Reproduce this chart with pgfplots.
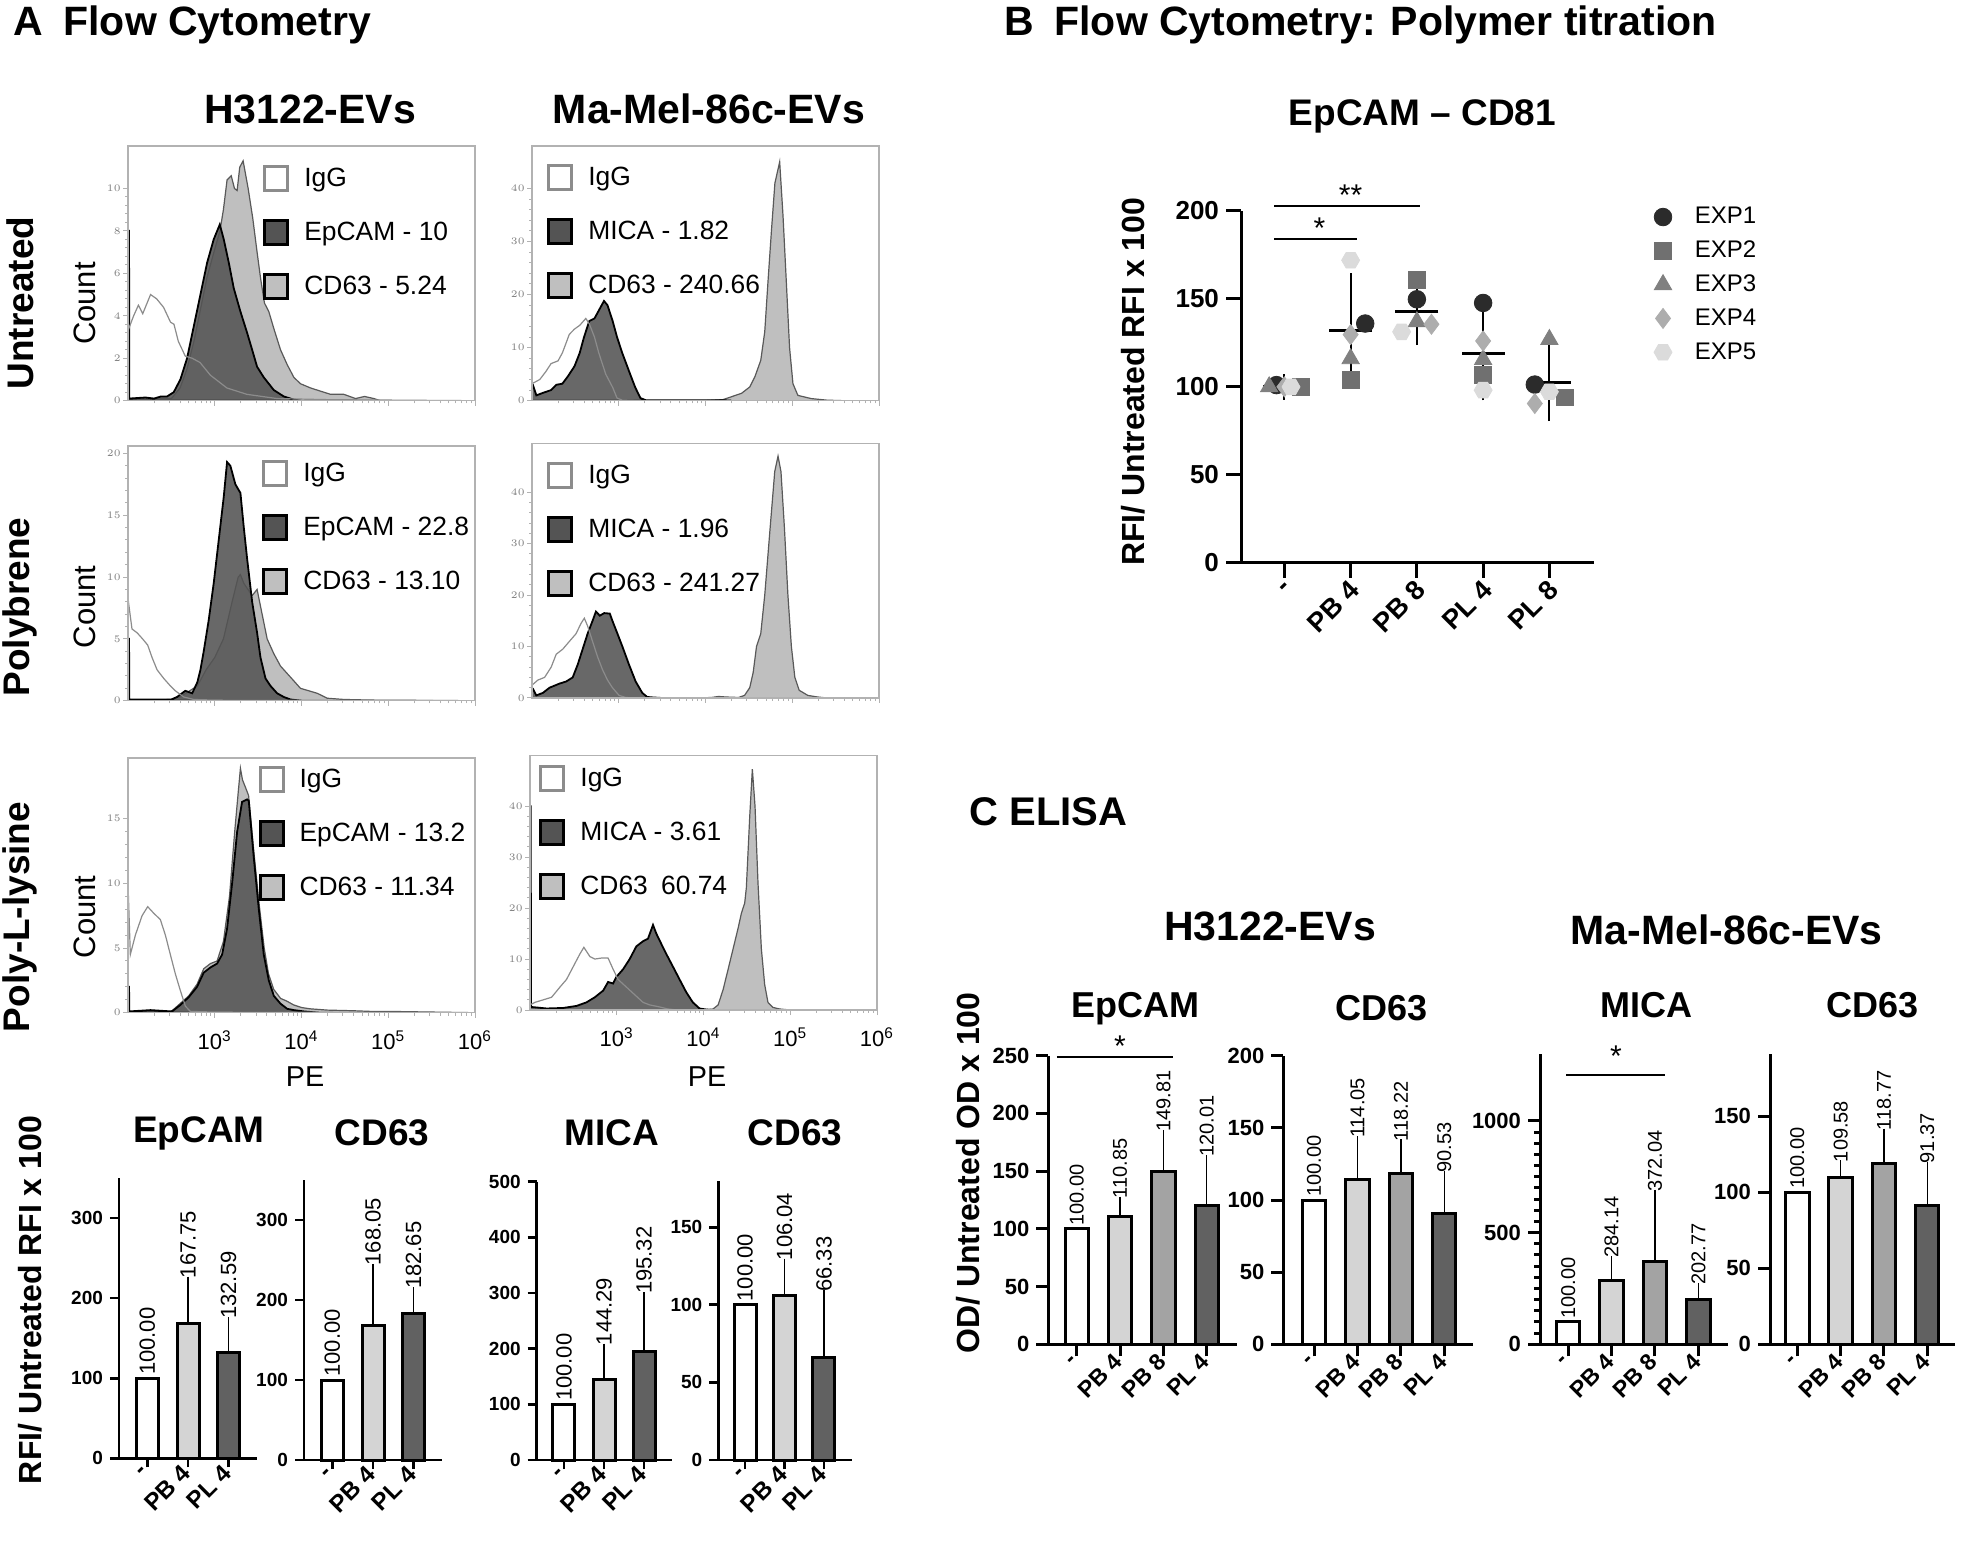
\documentclass[border=0pt]{standalone}
\usepackage{fontspec}
\setmainfont{Liberation Sans}
\usepackage{pgfplots}
\pgfplotsset{compat=1.18}

\definecolor{igg}{gray}{0.55}
\definecolor{epc}{gray}{0.33}
\definecolor{cdf}{gray}{0.75}
\definecolor{barL}{gray}{0.83}
\definecolor{barM}{gray}{0.64}
\definecolor{barD}{gray}{0.38}
\definecolor{e1}{gray}{0.17}
\definecolor{e2}{gray}{0.44}
\definecolor{e3}{gray}{0.50}
\definecolor{e4}{gray}{0.68}
\definecolor{e5}{gray}{0.86}

\newcommand{\fs}[1]{\fontsize{#1}{#1}\selectfont}
% text placed in pixel coordinates of the 1961x1545 reference (1 px = 0.5pt)
\newcommand{\txt}[4][]{\node[inner sep=0pt,#1] at (0.5*#2pt,-0.5*#3pt) {#4};}

\pgfdeclareplotmark{hexagon*}{%
  \pgfpathmoveto{\pgfpointpolar{0}{\pgfplotmarksize}}%
  \pgfpathlineto{\pgfpointpolar{60}{\pgfplotmarksize}}%
  \pgfpathlineto{\pgfpointpolar{120}{\pgfplotmarksize}}%
  \pgfpathlineto{\pgfpointpolar{180}{\pgfplotmarksize}}%
  \pgfpathlineto{\pgfpointpolar{240}{\pgfplotmarksize}}%
  \pgfpathlineto{\pgfpointpolar{300}{\pgfplotmarksize}}%
  \pgfpathclose\pgfusepathqfillstroke}

\pgfplotsset{
  hist/.style={scale only axis, width=173.5pt, height=127.35pt,
    xmin=2, xmax=6, ymin=0, axis on top,
    axis line style={draw=gray!60, line width=0.6pt},
    tick align=outside, major tick length=2.5pt, minor tick length=1.4pt,
    tick style={gray!60, line width=0.5pt},
    xtick pos=bottom, ytick pos=left,
    xtick={3,4,5,6}, xticklabels={,,,},
    minor xtick={2.301,2.477,2.602,2.699,2.778,2.845,2.903,2.954,
                 3.301,3.477,3.602,3.699,3.778,3.845,3.903,3.954,
                 4.301,4.477,4.602,4.699,4.778,4.845,4.903,4.954,
                 5.301,5.477,5.602,5.699,5.778,5.845,5.903,5.954},
    minor y tick num=4,
    yticklabel style={font=\fs{4}, text=gray, inner sep=1pt},
    legend cell align=left,
    legend image code/.code={\path[draw=none, fill=none] (0pt,-13.5pt) rectangle (11.5pt,13.5pt);
       \draw[##1, line width=1.5pt] (-0.3pt,-5.9pt) rectangle (11.2pt,5.9pt);},
    legend style={draw=none, fill=none, anchor=north west, inner sep=0pt,
       row sep=0pt, font=\fs{13.2}, nodes={inner sep=0pt},
       /tikz/every odd column/.append style={column sep=7.5pt}}},
  histlab/.style={xticklabels={10\textsuperscript{3},10\textsuperscript{4},10\textsuperscript{5},10\textsuperscript{6}},
    xticklabel style={font=\fs{11}, yshift=-3pt}},
  cdcurve/.style={fill=cdf, draw=black!65, line width=0.6pt},
  epcurve/.style={fill=epc, draw=black, line width=0.9pt, fill opacity=0.88},
  iggcurve/.style={draw=igg, line width=0.6pt},
  gp/.style={scale only axis, axis x line*=bottom, axis y line*=left,
    axis line style={-}, ymin=0, clip=false, tick align=outside,
    /pgf/number format/assume math mode=true, /pgf/number format/1000 sep={},
    xticklabel style={rotate=45, anchor=east, inner sep=1pt}},
  gpA/.style={gp, axis line style={line width=1.35pt},
    tick style={black, line width=1.35pt}, major tick length=4.5pt,
    yticklabel style={font=\bfseries\fs{9.5}},
    xticklabel style={font=\bfseries\fs{12}},
    bar width=11pt, xtick={0,1,2}},
  gpC/.style={gp, axis line style={line width=1.5pt},
    tick style={black, line width=1.5pt}, major tick length=6pt, minor tick length=3pt,
    yticklabel style={font=\bfseries\fs{11}},
    xticklabel style={font=\bfseries\fs{11.5}},
    bar width=11.7pt, xtick={0,1,2,3}, xticklabels={-,PB 4,PB 8,PL 4}},
  gpB/.style={gp, axis line style={line width=1.5pt},
    tick style={black, line width=1.5pt}, major tick length=7.5pt,
    yticklabel style={font=\bfseries\fs{13}},
    xticklabel style={font=\bfseries\fs{13.5}, yshift=-4pt}},
  gpbar/.style={ybar, bar shift=0pt, draw=black, line width=1.5pt, fill=#1},
  err/.style={error bars/y dir=plus, error bars/y explicit,
    error bars/error bar style={line width=0.65pt, black},
    error bars/error mark options={line width=0.65pt, mark size=2.5pt, black}},
  vals/.style={draw=none, mark=none, nodes near coords, point meta=explicit symbolic,
    nodes near coords style={rotate=90, anchor=west, font=\fs{#1}, inner sep=1.5pt}},
}

\begin{document}
\begin{tikzpicture}
\fill[white] (0,0) rectangle (980.5pt,-772.5pt);
\path[use as bounding box] (0,0) rectangle (980.5pt,-772.5pt);

% ---------------- A: histograms ----------------
\begin{axis}[hist, at={(64pt,-200.35pt)}, ymax=12, ytick={0,2,...,10},
  legend style={at={(0.389,0.98)}}]
\addlegendimage{draw=igg, fill=white}\addlegendentry{IgG}
\addlegendimage{draw=black, fill=epc}\addlegendentry{EpCAM - 10}
\addlegendimage{draw=black, fill=cdf}\addlegendentry{CD63 - 5.24}
\addplot[cdcurve] coordinates {(2.0,0) (2.0,0.1) (2.5,0.1) (2.6,0.6) (2.68,1.5) (2.76,2.8) (2.83,4.2) (2.91,5.8) (2.99,7.0) (3.06,8.0) (3.10,9.0) (3.142,10.4) (3.19,10.6) (3.227,10.0) (3.258,9.9) (3.288,11.0) (3.327,11.3) (3.385,10.0) (3.438,8.6) (3.488,7.0) (3.527,5.8) (3.573,4.6) (3.623,4.2) (3.681,3.4) (3.758,2.4) (3.835,1.7) (3.912,1.1) (3.988,0.8) (4.104,0.6) (4.219,0.45) (4.335,0.3) (4.488,0.3) (4.623,0.1) (4.727,0.2) (4.835,0.1) (4.91,0) (6,0)} \closedcycle;
\addplot[epcurve] coordinates {(2.0,0) (2.0,8) (2.012,8) (2.015,0.1) (2.2,0.15) (2.3,0.1) (2.38,0.2) (2.45,0.2) (2.527,0.4) (2.604,1.0) (2.681,2.0) (2.758,3.5) (2.835,5.0) (2.912,6.5) (2.988,7.6) (3.058,8.3) (3.104,7.6) (3.162,6.5) (3.219,5.3) (3.296,4.2) (3.373,3.2) (3.431,2.4) (3.488,1.6) (3.565,1.1) (3.681,0.5) (3.796,0.2) (3.912,0.05) (4.0,0)} \closedcycle;
\addplot[iggcurve] coordinates {(2.0,0) (2.0,3.3) (2.065,4.0) (2.12,4.5) (2.17,4.1) (2.26,5.0) (2.33,4.8) (2.41,4.4) (2.49,3.7) (2.53,3.6) (2.58,2.8) (2.66,2.1) (2.74,2.0) (2.83,1.8) (2.95,1.2) (3.14,0.6) (3.37,0.3) (3.72,0.1) (4.3,0.05) (6,0)};
\end{axis}

\begin{axis}[hist, at={(266pt,-200.35pt)}, ymax=48, ytick={0,10,...,40},
  legend style={at={(0.043,0.984)}}]
\addlegendimage{draw=igg, fill=white}\addlegendentry{IgG}
\addlegendimage{draw=black, fill=epc}\addlegendentry{MICA - 1.82}
\addlegendimage{draw=black, fill=cdf}\addlegendentry{CD63 - 240.66}
\addplot[cdcurve] coordinates {(4.0,0) (4.2,0.2) (4.30,0.75) (4.416,1.4) (4.511,2.6) (4.569,4.5) (4.637,7.6) (4.683,13) (4.721,22.6) (4.76,32) (4.80,41) (4.855,45) (4.893,35) (4.931,22.6) (4.969,10) (5.008,3.2) (5.065,1.0) (5.218,0.4) (5.4,0.1) (5.6,0) (6,0)} \closedcycle;
\addplot[epcurve] coordinates {(2.0,0) (2.0,3.0) (2.01,3.0) (2.05,1.0) (2.13,1.5) (2.22,2.0) (2.28,3.0) (2.35,3.2) (2.41,4.5) (2.49,6.5) (2.55,9.0) (2.60,12.0) (2.66,15.0) (2.72,15.5) (2.77,17.0) (2.83,18.8) (2.87,18.0) (2.93,15.0) (2.98,12.0) (3.04,9.0) (3.12,5.5) (3.19,2.5) (3.25,0.5) (3.31,0.1) (4.2,0.1) (4.3,0)} \closedcycle;
\addplot[iggcurve] coordinates {(2.0,0) (2.0,3.2) (2.09,4.0) (2.16,5.5) (2.22,7.0) (2.30,7.5) (2.35,9.0) (2.43,12.5) (2.49,13.5) (2.55,14.2) (2.62,15.5) (2.66,14.5) (2.72,12.0) (2.77,9.0) (2.85,5.0) (2.93,2.5) (2.98,0.5) (3.04,0.1) (3.2,0) (6,0)};
\end{axis}

\begin{axis}[hist, at={(64pt,-350.35pt)}, ymax=20.6, ytick={0,5,...,20},
  legend style={at={(0.386,1.0)}}]
\addlegendimage{draw=igg, fill=white}\addlegendentry{IgG}
\addlegendimage{draw=black, fill=epc}\addlegendentry{EpCAM - 22.8}
\addlegendimage{draw=black, fill=cdf}\addlegendentry{CD63 - 13.10}
\addplot[cdcurve] coordinates {(2.0,0) (2.5,0.1) (2.6,0.3) (2.8,1.2) (2.9,2.5) (3.0,3.5) (3.1,5.0) (3.2,8.0) (3.27,10.0) (3.296,10.2) (3.335,9.5) (3.431,8.5) (3.488,9.0) (3.546,7.0) (3.604,5.0) (3.681,3.8) (3.758,2.8) (3.835,2.2) (3.912,1.6) (3.988,1.0) (4.085,0.8) (4.181,0.6) (4.296,0.2) (4.488,0.1) (4.8,0.05) (6,0)} \closedcycle;
\addplot[epcurve] coordinates {(2.0,0) (2.0,5.0) (2.012,5.0) (2.015,0.1) (2.5,0.1) (2.565,0.3) (2.66,0.8) (2.74,0.6) (2.80,1.5) (2.835,2.5) (2.873,4.0) (2.93,6.5) (2.988,9.5) (3.046,13) (3.104,16.5) (3.142,19.3) (3.18,19.0) (3.238,17.5) (3.296,16.8) (3.335,14) (3.373,11.5) (3.431,8.0) (3.488,5.5) (3.527,3.5) (3.585,1.8) (3.642,1.2) (3.719,0.6) (3.796,0.3) (3.873,0.1) (4.0,0)} \closedcycle;
\addplot[iggcurve] coordinates {(2.0,0) (2.0,8.0) (2.005,8.0) (2.046,5.8) (2.104,5.5) (2.162,5.05) (2.227,4.5) (2.277,3.5) (2.335,2.5) (2.412,1.8) (2.488,1.2) (2.546,0.8) (2.642,0.3) (2.758,0.1) (3.0,0.05) (6,0)};
\end{axis}

\begin{axis}[hist, at={(266pt,-349pt)}, ymax=49.5, ytick={0,10,...,40},
  legend style={at={(0.043,0.98)}}]
\addlegendimage{draw=igg, fill=white}\addlegendentry{IgG}
\addlegendimage{draw=black, fill=epc}\addlegendentry{MICA - 1.96}
\addlegendimage{draw=black, fill=cdf}\addlegendentry{CD63 - 241.27}
\addplot[cdcurve] coordinates {(3.9,0) (4.07,0.1) (4.15,0.3) (4.23,0.2) (4.38,0.1) (4.45,0.5) (4.51,2.0) (4.55,5.0) (4.588,10.0) (4.637,12.5) (4.683,20) (4.74,32) (4.798,44) (4.836,47) (4.87,44) (4.91,33) (4.95,20) (4.99,10) (5.03,4) (5.08,1.5) (5.18,0.5) (5.29,0.2) (5.4,0) (6,0)} \closedcycle;
\addplot[epcurve] coordinates {(2.0,0) (2.0,1.8) (2.01,1.8) (2.05,0.5) (2.126,1.0) (2.202,2.0) (2.317,2.8) (2.393,3.2) (2.469,4.0) (2.527,6.5) (2.584,9.5) (2.641,12.5) (2.698,15.0) (2.737,16.8) (2.782,16.0) (2.832,16.5) (2.897,16.4) (2.927,15.0) (2.985,12.5) (3.042,10.0) (3.118,6.5) (3.195,3.2) (3.271,1.0) (3.328,0.2) (3.4,0.1) (3.5,0)} \closedcycle;
\addplot[iggcurve] coordinates {(2.0,0) (2.0,2.5) (2.069,3.5) (2.145,4.0) (2.221,6.0) (2.279,8.5) (2.355,9.5) (2.431,11.0) (2.508,12.5) (2.565,14.5) (2.603,15.5) (2.641,14.0) (2.698,11.0) (2.756,8.0) (2.813,5.5) (2.87,3.5) (2.927,2.0) (3.004,0.5) (3.08,0.1) (3.2,0) (6,0)};
\end{axis}

\begin{axis}[hist, histlab, at={(64pt,-506.35pt)}, ymax=19.7, ytick={0,5,...,15},
  legend style={at={(0.375,1.024)}}]
\addlegendimage{draw=igg, fill=white}\addlegendentry{IgG}
\addlegendimage{draw=black, fill=epc}\addlegendentry{EpCAM - 13.2}
\addlegendimage{draw=black, fill=cdf}\addlegendentry{CD63 - 11.34}
\addplot[cdcurve] coordinates {(2.0,0) (2.5,0.1) (2.6,0.7) (2.70,1.3) (2.796,2.2) (2.873,3.4) (2.95,3.8) (3.027,4.0) (3.10,5.5) (3.17,9.0) (3.23,14.0) (3.27,17.0) (3.296,18.9) (3.32,18.0) (3.35,17.5) (3.39,16.8) (3.45,12.5) (3.51,8.5) (3.57,5.0) (3.62,3.0) (3.68,1.8) (3.76,1.1) (3.83,0.9) (3.91,0.6) (4.0,0.4) (4.1,0.3) (4.3,0.2) (4.6,0.15) (4.8,0.1) (5.0,0.1) (5.5,0.05) (6,0)} \closedcycle;
\addplot[epcurve] coordinates {(2.0,0) (2.0,2.0) (2.012,2.0) (2.015,0.1) (2.26,0.2) (2.5,0.1) (2.527,0.2) (2.604,0.6) (2.70,1.2) (2.796,2.0) (2.873,3.1) (2.95,3.5) (3.027,3.8) (3.085,4.5) (3.142,6.5) (3.20,10.0) (3.258,14.0) (3.315,16.3) (3.373,16.5) (3.392,16.4) (3.45,12.0) (3.508,8.0) (3.565,4.5) (3.623,2.5) (3.681,1.3) (3.758,0.7) (3.835,0.3) (3.912,0.2) (4.027,0.1) (4.2,0)} \closedcycle;
\addplot[iggcurve] coordinates {(2.0,0) (2.0,9.0) (2.005,9.0) (2.027,4.5) (2.085,6.0) (2.162,7.5) (2.227,8.2) (2.296,7.7) (2.373,7.2) (2.431,6.0) (2.488,4.5) (2.546,3.0) (2.604,1.7) (2.662,0.5) (2.719,0.1) (3.0,0.05) (6,0)};
\end{axis}

\begin{axis}[hist, histlab, at={(265pt,-505pt)}, ymax=50, ytick={0,10,...,40},
  legend style={at={(0.026,1.016)}}]
\addlegendimage{draw=igg, fill=white}\addlegendentry{IgG}
\addlegendimage{draw=black, fill=epc}\addlegendentry{MICA - 3.61}
\addlegendimage{draw=black, fill=cdf}\addlegendentry{CD63\enspace 60.74}
\addplot[cdcurve] coordinates {(4.0,0) (4.11,0.2) (4.169,1.0) (4.226,4.0) (4.284,8.0) (4.341,12.0) (4.398,16.0) (4.437,19.0) (4.475,21.0) (4.494,24) (4.533,38) (4.563,47.3) (4.594,40) (4.628,25) (4.667,12) (4.705,5) (4.743,1.5) (4.801,0.5) (4.877,0.2) (5.0,0) (6,0)} \closedcycle;
\addplot[epcurve] coordinates {(2.0,0) (2.0,40) (2.008,40) (2.012,0.6) (2.192,0.3) (2.383,0.4) (2.536,0.8) (2.651,1.5) (2.747,2.5) (2.843,3.8) (2.9,5.5) (2.958,5.2) (2.996,6.5) (3.073,8.0) (3.149,10.0) (3.226,12.5) (3.303,13.5) (3.36,14.0) (3.418,16.7) (3.456,15.0) (3.513,13.0) (3.571,11.0) (3.648,8.5) (3.724,6.0) (3.801,3.5) (3.877,1.5) (3.954,0.3) (4.03,0.1) (4.1,0)} \closedcycle;
\addplot[iggcurve] coordinates {(2.0,0) (2.0,1.0) (2.057,1.5) (2.153,2.0) (2.249,2.5) (2.345,4.5) (2.421,6.0) (2.498,8.5) (2.575,11.0) (2.621,12.3) (2.69,10.5) (2.747,10.0) (2.824,10.2) (2.9,10.2) (2.958,8.0) (3.015,6.0) (3.111,4.5) (3.207,3.0) (3.303,1.5) (3.379,1.0) (3.494,0.6) (3.59,0.2) (3.7,0) (6,0)};
\end{axis}

% ---------------- A: bar charts ----------------
\begin{axis}[gpA, at={(59.5pt,-729.15pt)}, width=69pt, height=140.15pt,
  xmin=-0.7, xmax=2.7, ymax=350, ytick={0,100,200,300}, xticklabels={-,PB 4,PL 4}]
\addplot[gpbar=white] coordinates {(0,100)};
\addplot[gpbar=barL, err] coordinates {(1,167.75) +- (0,53.0)};
\addplot[gpbar=barD, err] coordinates {(2,132.59) +- (0,37.4)};
\addplot[vals=11] coordinates {(0,100)[100.00] (1,220.75)[167.75] (2,169.99)[132.59]};
\end{axis}

\begin{axis}[gpA, at={(152pt,-730pt)}, width=69pt, height=140pt,
  xmin=-0.7, xmax=2.7, ymax=350, ytick={0,100,200,300}, xticklabels={-,PB 4,PL 4}]
\addplot[gpbar=white] coordinates {(0,100)};
\addplot[gpbar=barL, err] coordinates {(1,168.05) +- (0,71.0)};
\addplot[gpbar=barD, err] coordinates {(2,182.65) +- (0,27.0)};
\addplot[vals=11] coordinates {(0,100)[100.00] (1,239.05)[168.05] (2,209.65)[182.65]};
\end{axis}

\begin{axis}[gpA, at={(268.35pt,-730pt)}, width=67.5pt, height=139.15pt,
  xmin=-0.68, xmax=2.69, ymax=500, ytick={0,100,...,500}, xticklabels={-,PB 4,PL 4}]
\addplot[gpbar=white] coordinates {(0,100)};
\addplot[gpbar=barL, err] coordinates {(1,144.29) +- (0,56.0)};
\addplot[gpbar=barD, err] coordinates {(2,195.32) +- (0,97.0)};
\addplot[vals=11] coordinates {(0,100)[100.00] (1,200.29)[144.29] (2,292.32)[195.32]};
\end{axis}

\begin{axis}[gpA, at={(359.15pt,-730pt)}, width=67pt, height=139.65pt,
  xmin=-0.68, xmax=2.72, ymax=180, ytick={0,50,100,150}, xticklabels={-,PB 4,PL 4}]
\addplot[gpbar=white] coordinates {(0,100)};
\addplot[gpbar=barL, err] coordinates {(1,106.04) +- (0,20.6)};
\addplot[gpbar=barD, err] coordinates {(2,66.33) +- (0,40.0)};
\addplot[vals=11] coordinates {(0,100)[100.00] (1,126.64)[106.04] (2,106.33)[66.33]};
\end{axis}

% ---------------- B: polymer titration ----------------
\begin{axis}[gpB, at={(620.5pt,-281.35pt)}, width=176.7pt, height=175.85pt,
  xmin=-0.655, xmax=4.68, ymax=200, ytick={0,50,...,200},
  xtick={0,1,2,3,4}, xticklabels={-,PB 4,PB 8,PL 4,PL 8},
  legend cell align=left,
  legend image code/.code={\path[draw=none, fill=none] (0pt,-8.45pt) rectangle (0pt,8.45pt);
     \draw[#1] plot coordinates {(0pt,0pt)};},
  legend style={at={(1.1675,1.032)}, anchor=north west, draw=none, fill=none,
     inner sep=0pt, nodes={inner sep=0pt}, font=\fs{12}, row sep=0pt,
     /tikz/every odd column/.append style={column sep=11.4pt}}]
\addplot[forget plot, only marks, mark=-, mark size=10.8pt, mark options={line width=1.5pt, black},
  error bars/y dir=both, error bars/y explicit,
  error bars/error bar style={line width=1pt, black},
  error bars/error mark options={line width=1pt, mark size=6.4pt, black}]
  coordinates {(0,100) +- (0,0) (1,132.2) +- (0,25) (2,143) +- (0,12) (3,118.8) +- (0,19.2) (4,102.3) +- (0,14.5)};
\addplot[only marks, mark=*, mark size=4.4pt, color=e1] coordinates {(-0.12,101) (1.22,136) (2,149.8) (3,147.7) (3.78,101.3)};
\addlegendentry{EXP1}
\addplot[only marks, mark=square*, mark size=4.2pt, color=e2] coordinates {(0.25,100) (1,103.8) (2,160.6) (3,106.6) (4.23,94)};
\addlegendentry{EXP2}
\addplot[only marks, mark=triangle*, mark size=5pt, color=e3] coordinates {(-0.23,100) (1,116) (2,137) (3,115.5) (4,126.9)};
\addlegendentry{EXP3}
\addplot[only marks, mark=diamond*, mark size=5pt, color=e4] coordinates {(0,100) (1,129.7) (2.22,135.6) (3,126.1) (3.78,90.5)};
\addlegendentry{EXP4}
\addplot[only marks, mark=hexagon*, mark size=4.5pt, color=e5] coordinates {(0.1,100) (1,172) (1.77,131.3) (3,98.1) (4,97.2)};
\addlegendentry{EXP5}
\draw[line width=1pt] (axis cs:-0.15,203) -- (axis cs:2.04,203);
\draw[line width=1pt] (axis cs:-0.15,184.2) -- (axis cs:1.10,184.2);
\node[font=\fs{15}] at (axis cs:1.0,209) {**};
\node[font=\fs{15}] at (axis cs:0.53,190) {*};
\end{axis}

% ---------------- C: ELISA ----------------
\begin{axis}[gpC, at={(524.15pt,-672.15pt)}, width=94.2pt, height=144.3pt,
  xmin=-0.655, xmax=3.69, ymax=250, ytick={0,50,...,250}]
\addplot[gpbar=white] coordinates {(0,100)};
\addplot[gpbar=barL, err] coordinates {(1,110.85) +- (0,12.7)};
\addplot[gpbar=barM, err] coordinates {(2,149.81) +- (0,31.6)};
\addplot[gpbar=barD, err] coordinates {(3,120.01) +- (0,39.7)};
\addplot[vals=10] coordinates {(0,100)[100.00] (1,123.55)[110.85] (2,181.41)[149.81] (3,159.71)[120.01]};
\draw[line width=1pt] (axis cs:-0.46,249.2) -- (axis cs:2.21,249.2);
\node[font=\fs{15}] at (axis cs:1.0,258) {*};
\end{axis}

\begin{axis}[gpC, at={(641.65pt,-672.15pt)}, width=95pt, height=144.3pt,
  xmin=-0.71, xmax=3.67, ymax=200, ytick={0,50,...,200}]
\addplot[gpbar=white] coordinates {(0,100)};
\addplot[gpbar=barL, err] coordinates {(1,114.05) +- (0,26.7)};
\addplot[gpbar=barM, err] coordinates {(2,118.22) +- (0,20.3)};
\addplot[gpbar=barD, err] coordinates {(3,90.53) +- (0,26.0)};
\addplot[vals=10] coordinates {(0,100)[100.00] (1,140.75)[114.05] (2,138.52)[118.22] (3,116.53)[90.53]};
\end{axis}

\begin{axis}[gpC, at={(770pt,-672.15pt)}, width=94.15pt, height=145.15pt,
  xmin=-0.65, xmax=3.69, ymax=1300, ytick={0,500,1000}, minor y tick num=9]
\addplot[gpbar=white] coordinates {(0,100)};
\addplot[gpbar=barL, err] coordinates {(1,284.14) +- (0,89.0)};
\addplot[gpbar=barM, err] coordinates {(2,372.04) +- (0,296.6)};
\addplot[gpbar=barD, err] coordinates {(3,202.77) +- (0,48.0)};
\addplot[vals=10] coordinates {(0,100)[100.00] (1,373.14)[284.14] (2,668.64)[372.04] (3,250.77)[202.77]};
\draw[line width=1pt] (axis cs:-0.04,1206) -- (axis cs:2.24,1206);
\node[font=\fs{15}] at (axis cs:1.1,1290) {*};
\end{axis}

\begin{axis}[gpC, at={(885pt,-672.15pt)}, width=92.5pt, height=145.15pt,
  xmin=-0.63, xmax=3.64, ymax=191, ytick={0,50,100,150}]
\addplot[gpbar=white] coordinates {(0,100)};
\addplot[gpbar=barL, err] coordinates {(1,109.58) +- (0,8.1)};
\addplot[gpbar=barM, err] coordinates {(2,118.77) +- (0,19.8)};
\addplot[gpbar=barD, err] coordinates {(3,91.37) +- (0,25.6)};
\addplot[vals=10] coordinates {(0,100)[100.00] (1,117.68)[109.58] (2,138.57)[118.77] (3,116.97)[91.37]};
\end{axis}

% ---------------- texts ----------------
\txt[anchor=west, font=\bfseries\fs{20.5}]{13}{25}{A\hspace{0.5em}Flow Cytometry}
\txt[anchor=west, font=\bfseries\fs{20.5}]{1004}{25}{B\hspace{0.5em}Flow Cytometry: Polymer titration}
\txt[anchor=west, font=\bfseries\fs{20}]{969}{812}{C ELISA}
\txt[font=\bfseries\fs{20.5}]{310}{109}{H3122-EVs}
\txt[font=\bfseries\fs{20.5}]{709}{109}{Ma-Mel-86c-EVs}
\txt[rotate=90, font=\bfseries\fs{18.5}]{20}{303}{Untreated}
\txt[rotate=90, font=\bfseries\fs{18.5}]{20}{607}{Polybrene}
\txt[rotate=90, font=\bfseries\fs{18.5}]{20}{917}{Poly-L-lysine}
\txt[rotate=90, font=\fs{15.5}]{85}{303.5}{Count}
\txt[rotate=90, font=\fs{15.5}]{85}{607}{Count}
\txt[rotate=90, font=\fs{15.5}]{85}{917}{Count}
\txt[font=\fs{14.4}]{305}{1077}{PE}
\txt[font=\fs{14.4}]{707}{1077}{PE}
\txt[font=\bfseries\fs{18.5}]{199}{1133}{EpCAM}
\txt[font=\bfseries\fs{18.5}]{382}{1133}{CD63}
\txt[font=\bfseries\fs{18.5}]{611.7}{1133}{MICA}
\txt[font=\bfseries\fs{18.5}]{795}{1133}{CD63}
\txt[rotate=90, font=\bfseries\fs{16}]{30}{1300}{RFI/ Untreated RFI x 100}
\txt[font=\bfseries\fs{18.5}]{1422.5}{116}{EpCAM – CD81}
\txt[rotate=90, font=\bfseries\fs{16}]{1133.7}{381.7}{RFI/ Untreated RFI x 100}
\txt[font=\bfseries\fs{20.5}]{1270}{926.7}{H3122-EVs}
\txt[font=\bfseries\fs{20.5}]{1726.7}{930}{Ma-Mel-86c-EVs}
\txt[font=\bfseries\fs{18}]{1135}{1008.3}{EpCAM}
\txt[font=\bfseries\fs{18}]{1381.7}{1008.3}{CD63}
\txt[font=\bfseries\fs{18}]{1646.7}{1005}{MICA}
\txt[font=\bfseries\fs{18}]{1873}{1005}{CD63}
\txt[rotate=90, font=\bfseries\fs{16}]{968}{1173}{OD/ Untreated OD x 100}
\end{tikzpicture}
\end{document}
